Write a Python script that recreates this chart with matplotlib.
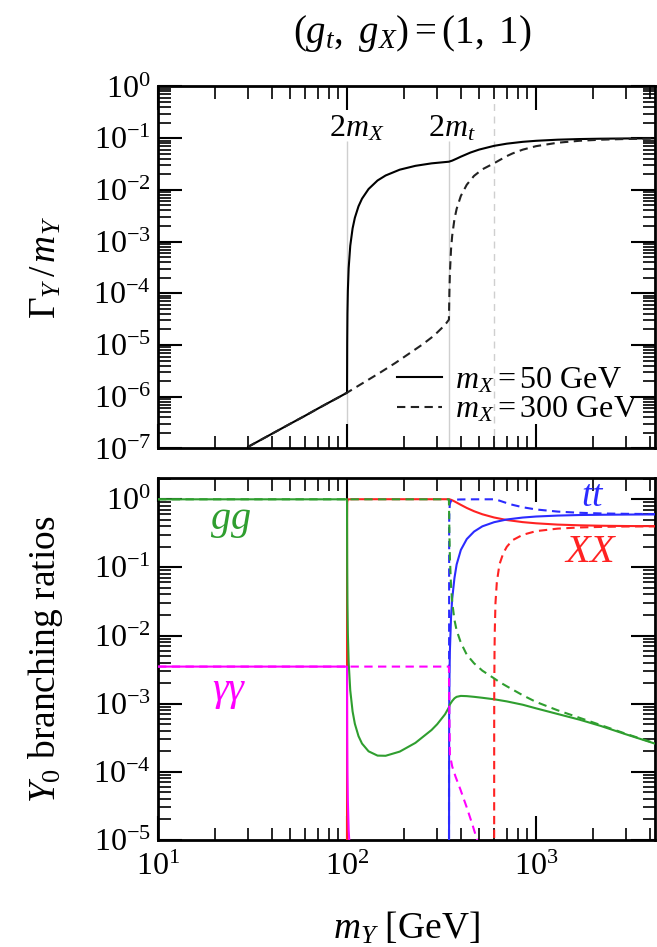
import matplotlib
matplotlib.use("Agg")
import matplotlib.pyplot as plt
from matplotlib.ticker import LogLocator, NullFormatter, LogFormatterSciNotation
from matplotlib.lines import Line2D

# ---------------- data ----------------
thresholds_solid = [100, 346]      # 2 m_X (m_X = 50 GeV), 2 m_t
threshold_dashed = 600             # 2 m_X (m_X = 300 GeV)

# Top panel: Gamma_Y / m_Y
m_top_solid = [30, 40, 50, 60, 70, 80, 90, 100, 100.2, 100.5, 101, 102, 104, 107, 110, 115,
               120, 130, 145, 160, 190, 230, 280, 346, 360, 380, 400, 450, 500, 600, 700,
               850, 1000, 1300, 1700, 2200, 3000, 4300]
gam_top_solid = [1.08e-7, 1.92e-7, 3.0e-7, 4.3e-7, 5.9e-7, 7.7e-7, 9.7e-7, 1.2e-6, 1.1e-5,
                 4.1e-5, 1.12e-4, 3.07e-4, 8.3e-4, 1.80e-3, 2.89e-3, 4.82e-3, 6.76e-3,
                 1.04e-2, 1.52e-2, 1.90e-2, 2.46e-2, 2.92e-2, 3.26e-2, 3.51e-2, 3.68e-2,
                 4.02e-2, 4.39e-2, 5.28e-2, 6.02e-2, 7.11e-2, 7.83e-2, 8.50e-2, 8.90e-2,
                 9.35e-2, 9.62e-2, 9.77e-2, 9.88e-2, 9.94e-2]

m_top_dashed = [30, 40, 50, 60, 70, 80, 90, 100, 120, 150, 180, 210, 250, 280, 300, 320, 335,
                346, 347, 348, 350, 355, 360, 370, 380, 400, 430, 470, 520, 600, 640, 700,
                750, 850, 1000, 1300, 1700, 2200, 3000, 4300]
gam_top_dashed = [1.08e-7, 1.92e-7, 3.0e-7, 4.3e-7, 5.9e-7, 7.7e-7, 9.7e-7, 1.2e-6, 1.8e-6,
                  2.95e-6, 4.5e-6, 6.6e-6, 1.02e-5, 1.4e-5, 1.75e-5, 2.2e-5, 2.65e-5, 3.1e-5,
                  5.8e-5, 1.07e-4, 2.4e-4, 7.1e-4, 1.30e-3, 2.71e-3, 4.29e-3, 7.64e-3,
                  1.26e-2, 1.87e-2, 2.50e-2, 3.28e-2, 3.75e-2, 4.50e-2, 5.06e-2, 6.00e-2,
                  7.01e-2, 8.17e-2, 8.91e-2, 9.35e-2, 9.65e-2, 9.83e-2]

# Bottom panel: branching ratios
m_gg_s = [10, 100, 100.001, 100.01, 100.05, 100.2, 100.5, 101, 102, 104, 107, 110, 115, 120,
          130, 145, 160, 190, 230, 280, 300, 330, 346, 350, 360, 370, 380, 400, 430, 470, 520,
          600, 700, 850, 1000, 1300, 1700, 2200, 3000, 4300]
br_gg_s = [0.9965, 0.9965, 0.994, 0.911, 0.487, 0.107, 0.0294, 0.0109, 4.07e-3, 1.57e-3,
           7.7e-4, 5.07e-4, 3.34e-4, 2.60e-4, 2.0e-4, 1.73e-4, 1.72e-4, 1.98e-4, 2.66e-4,
           4.11e-4, 5.0e-4, 6.99e-4, 8.85e-4, 9.73e-4, 1.096e-3, 1.198e-3, 1.26e-3, 1.30e-3,
           1.29e-3, 1.26e-3, 1.22e-3, 1.16e-3, 1.08e-3, 9.65e-4, 8.54e-4, 7.06e-4, 5.82e-4,
           4.71e-4, 3.54e-4, 2.57e-4]

m_gg_d = [10, 346, 347, 348, 350, 355, 360, 370, 380, 400, 430, 470, 520, 600, 640, 700, 850,
          1000, 1300, 1700, 2200, 3000, 4300]
br_gg_d = [0.9965, 0.9965, 0.548, 0.31, 0.144, 0.0529, 0.0309, 0.017, 0.0119, 7.85e-3,
           5.23e-3, 3.91e-3, 3.05e-3, 2.35e-3, 2.08e-3, 1.80e-3, 1.33e-3, 1.06e-3, 8.0e-4,
           6.2e-4, 4.85e-4, 3.6e-4, 2.6e-4]

m_aa_s = [10, 100, 100.01, 100.05, 100.2, 100.5, 101, 102, 104]
br_aa_s = [3.5e-3, 3.5e-3, 3.2e-3, 1.7e-3, 3.7e-4, 1.0e-4, 3.8e-5, 1.4e-5, 5.5e-6]

m_aa_d = [10, 346, 346.5, 347, 348, 350, 360, 375, 398, 430, 460, 488, 500]
br_aa_d = [3.5e-3, 3.5e-3, 2.0e-3, 1.2e-3, 6e-4, 1.8e-4, 1.2e-4, 8.5e-5, 5.5e-5, 3.0e-5,
           1.7e-5, 1.0e-5, 8e-6]

m_tt_s = [346, 347, 348, 350, 355, 360, 370, 380, 400, 430, 470, 520, 600, 700, 850, 1000,
          1300, 1700, 2200, 3000, 4300]
br_tt_s = [1e-7, 7.45e-4, 2.09e-3, 5.80e-3, 0.0186, 0.0344, 0.0695, 0.11, 0.18, 0.26, 0.335,
           0.40, 0.460, 0.504, 0.538, 0.557, 0.575, 0.586, 0.591, 0.595, 0.598]

m_tt_d = [346, 347, 348, 350, 355, 360, 370, 400, 470, 600, 610, 620, 640, 670, 700, 750, 850,
          1000, 1300, 1700, 2200, 3000, 4300]
br_tt_d = [1e-7, 0.450, 0.690, 0.856, 0.947, 0.969, 0.983, 0.992, 0.996, 0.997, 0.990, 0.979,
           0.953, 0.913, 0.877, 0.828, 0.762, 0.707, 0.658, 0.632, 0.618, 0.610, 0.605]

m_xx_s = [100, 100.001, 100.01, 100.05, 100.2, 100.5, 101, 102, 110, 200, 300, 346, 347, 348,
          350, 355, 360, 370, 380, 400, 430, 470, 520, 600, 700, 850, 1000, 1300, 1700, 2200,
          3000, 4300]
br_xx_s = [1e-7, 3e-3, 0.086, 0.51, 0.894, 0.970, 0.989, 0.996, 0.9995, 0.9998, 0.9995, 0.9991,
           0.9984, 0.9970, 0.9932, 0.980, 0.965, 0.929, 0.893, 0.826, 0.744, 0.666, 0.601,
           0.539, 0.495, 0.461, 0.443, 0.424, 0.414, 0.408, 0.404, 0.402]

m_xx_d = [600, 600.5, 601, 603, 605, 610, 620, 640, 670, 700, 750, 850, 1000, 1300, 1700, 2200,
          3000, 4300]
br_xx_d = [1e-7, 5e-4, 1.5e-3, 6e-3, 0.012, 0.03, 0.06, 0.11, 0.16, 0.20, 0.25, 0.30, 0.34,
           0.37, 0.385, 0.392, 0.398, 0.40]

legend_labels = [r'$m_X = 50$ GeV', r'$m_X = 300$ GeV']

# ---------------- style ----------------
plt.rcParams.update({
    'font.family': ['Liberation Serif', 'DejaVu Serif'],
    'mathtext.fontset': 'custom',
    'mathtext.rm': 'Liberation Serif',
    'mathtext.it': 'Liberation Serif:italic',
    'mathtext.bf': 'Liberation Serif:bold',
    'axes.linewidth': 2.0,
    'axes.unicode_minus': False,
    'xtick.direction': 'in', 'ytick.direction': 'in',
    'xtick.top': True, 'ytick.right': True,
    'xtick.major.size': 17, 'xtick.minor.size': 9,
    'ytick.major.size': 17, 'ytick.minor.size': 9,
    'xtick.major.width': 1.5, 'xtick.minor.width': 1.2,
    'ytick.major.width': 1.5, 'ytick.minor.width': 1.2,
    'xtick.labelsize': 23, 'ytick.labelsize': 23,
    'xtick.major.pad': 9, 'ytick.major.pad': 5,
})

GREEN = '#2f9e2f'
RED = '#ff2222'
BLUE = '#2b2bff'
MAGENTA = '#ff00ff'
GRAY = '#cfcfcf'
LW = 1.5
DASH = (4, 2.6)

fig = plt.figure(figsize=(6.57, 9.47), dpi=100)
ax1 = fig.add_axes([0.2405, 0.5264, 0.7565, 0.3823])
ax2 = fig.add_axes([0.2405, 0.1130, 0.7565, 0.3823])

for ax in (ax1, ax2):
    ax.set_xscale('log')
    ax.set_yscale('log')
    ax.set_xlim(10, 4260)
    ax.xaxis.set_major_locator(LogLocator(base=10, numticks=20))
    ax.xaxis.set_minor_locator(LogLocator(base=10, subs=range(2, 10), numticks=50))
    ax.yaxis.set_major_locator(LogLocator(base=10, numticks=20))
    ax.yaxis.set_minor_locator(LogLocator(base=10, subs=range(2, 10), numticks=50))
    ax.xaxis.set_minor_formatter(NullFormatter())
    ax.yaxis.set_minor_formatter(NullFormatter())
    ax.yaxis.set_major_formatter(LogFormatterSciNotation())

# ---------------- top panel ----------------
ax1.set_ylim(1e-7, 1)
ax1.vlines(thresholds_solid, 1e-7, 0.09, colors=GRAY, lw=1.0, zorder=1)
ax1.vlines([threshold_dashed], 1e-7, 0.5, colors=GRAY, lw=1.0, linestyles=(0, (5, 4)), zorder=1)
ax1.plot(m_top_solid, gam_top_solid, color='k', lw=LW, zorder=3)
ax1.plot(m_top_dashed, gam_top_dashed, color='#222222', lw=LW, dashes=DASH, zorder=3)
ax1.xaxis.set_major_formatter(NullFormatter())
ax1.text(112, 0.107, r'$2m_X$', ha='center', va='baseline', fontsize=23)
ax1.text(358, 0.107, r'$2m_t$', ha='center', va='baseline', fontsize=23)

handles = [Line2D([], [], color='k', lw=LW),
           Line2D([], [], color='#222222', lw=LW, dashes=DASH)]
ax1.legend(handles, legend_labels, loc='lower right', bbox_to_anchor=(0.965, 0.065),
           frameon=False, fontsize=23, handlelength=1.4, handletextpad=0.4,
           labelspacing=0.0, borderpad=0, borderaxespad=0)

ax1.set_ylabel(r'$\Gamma_Y\,/\,m_Y$', fontsize=27)
ax1.yaxis.set_label_coords(-0.19, 0.5)

# ---------------- bottom panel ----------------
ax2.set_ylim(1e-5, 2.05)
# solid (m_X = 50 GeV) first, dashed (m_X = 300 GeV) on top
ax2.plot(m_xx_s, br_xx_s, color=RED, lw=LW, zorder=3)
ax2.plot(m_tt_s, br_tt_s, color=BLUE, lw=LW, zorder=3)
ax2.plot(m_gg_s, br_gg_s, color=GREEN, lw=LW, zorder=3)
ax2.plot(m_aa_s, br_aa_s, color=MAGENTA, lw=LW, zorder=3)
ax2.plot(m_xx_d, br_xx_d, color=RED, lw=LW, dashes=DASH, zorder=4)
ax2.plot(m_tt_d, br_tt_d, color=BLUE, lw=LW, dashes=DASH, zorder=4)
ax2.plot(m_gg_d, br_gg_d, color=GREEN, lw=LW, dashes=DASH, zorder=4)
ax2.plot(m_aa_d, br_aa_d, color=MAGENTA, lw=LW, dashes=DASH, zorder=4)

ax2.text(24.3, 0.47, r'$gg$', color=GREEN, fontsize=29, ha='center', va='center')
ax2.text(23.7, 1.44e-3, r'$\gamma\gamma$', color=MAGENTA, fontsize=29, ha='center', va='center')
ax2.text(2000, 1.08, r'$tt$', color=BLUE, fontsize=27, ha='center', va='center')
ax2.text(1954, 0.163, r'$XX$', color=RED, fontsize=29, ha='center', va='center')

ax2.set_ylabel(r'$Y_0$ branching ratios', fontsize=27)
ax2.yaxis.set_label_coords(-0.187, 0.5)
ax2.set_xlabel(r'$m_Y$ [GeV]', fontsize=27)
ax2.xaxis.set_label_coords(0.5, -0.195)

fig.text(412 / 657, 1 - 33 / 947, r'$(g_t,\ g_X) = (1,\ 1)$', ha='center', va='center',
         fontsize=28)

fig.savefig('out.png', dpi=100)
